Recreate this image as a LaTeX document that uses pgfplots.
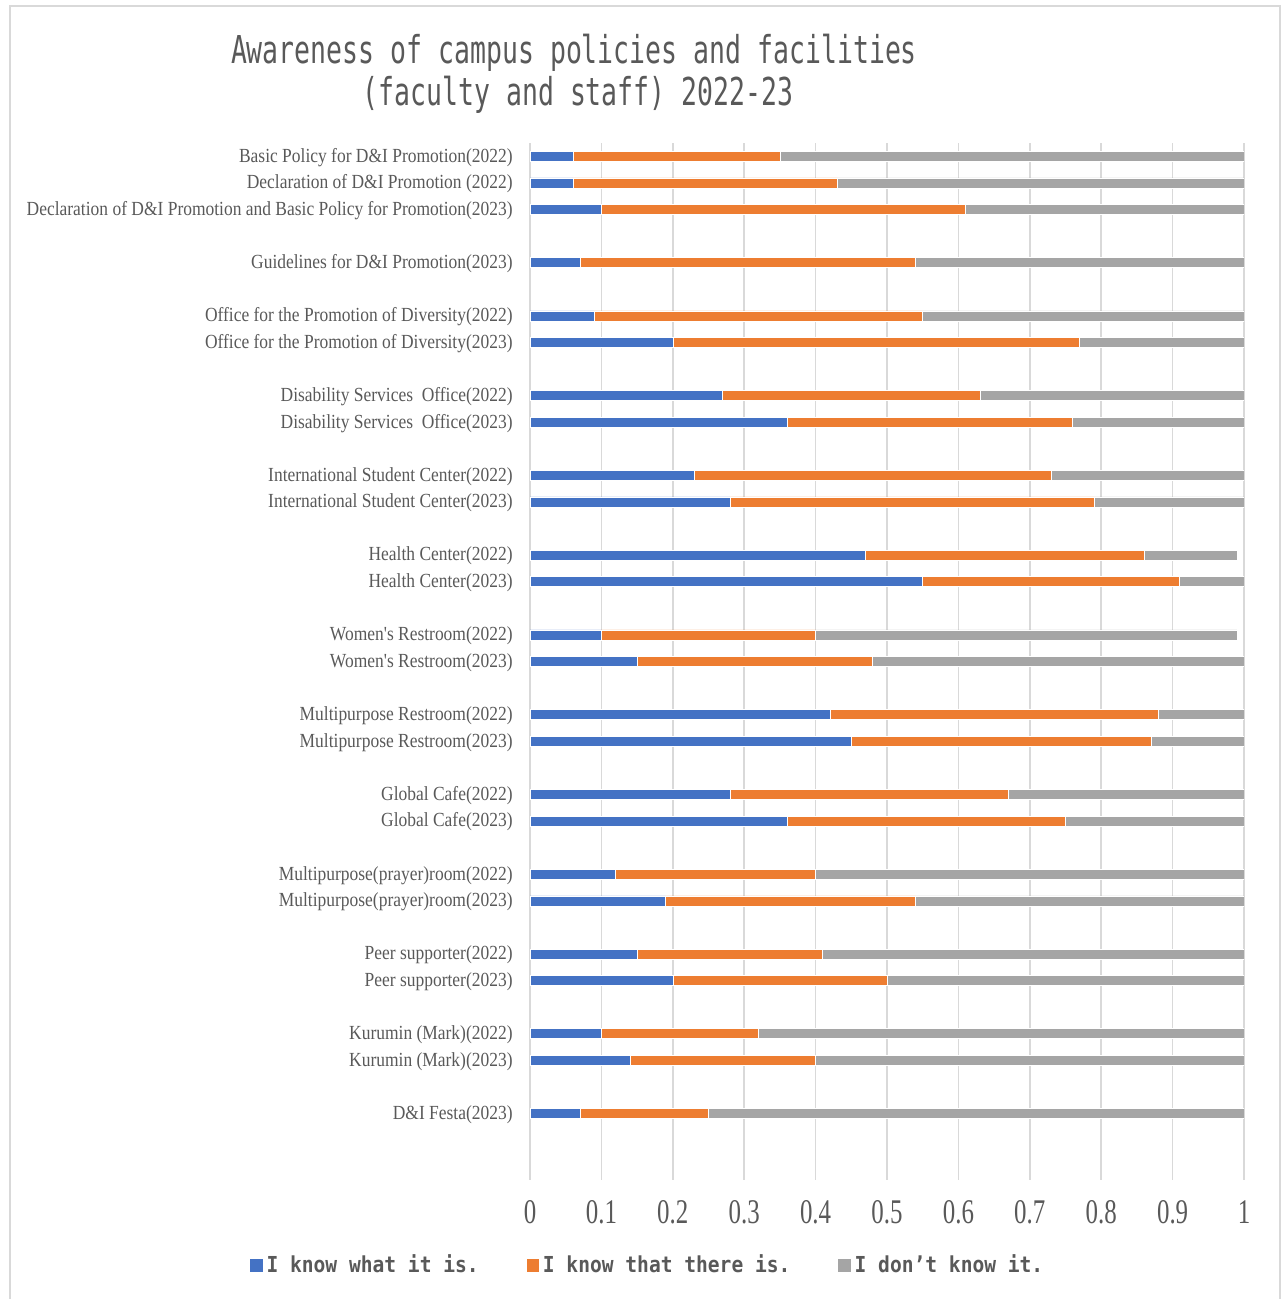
\documentclass[border=0pt]{standalone}
\usepackage{fontspec}
\usepackage{pgfplots}
\usepackage{pgfplotstable}
\pgfplotsset{compat=1.18}
\setmainfont{Liberation Serif}
\newfontfamily\labfont[FakeStretch=0.873]{Liberation Serif}
\newfontfamily\tickfont[FakeStretch=0.72]{Liberation Serif}
\newfontfamily\titlefont[FakeStretch=0.69]{DejaVu Sans Mono}
\newfontfamily\legfont[FakeStretch=0.89]{DejaVu Sans Mono Bold}

\definecolor{cblue}{HTML}{4472C4}
\definecolor{corange}{HTML}{ED7D31}
\definecolor{cgray}{HTML}{A5A5A5}
\definecolor{gridgray}{HTML}{D9D9D9}
\definecolor{txtgray}{HTML}{595959}

% row index (0 = top), share that knows it, knows it exists, does not know
\pgfplotstableread{
idx know there dont
0  0.06 0.29 0.65
1  0.06 0.37 0.57
2  0.10 0.51 0.39
4  0.07 0.47 0.46
6  0.09 0.46 0.45
7  0.20 0.57 0.23
9  0.27 0.36 0.37
10 0.36 0.40 0.24
12 0.23 0.50 0.27
13 0.28 0.51 0.21
15 0.47 0.39 0.13
16 0.55 0.36 0.09
18 0.10 0.30 0.59
19 0.15 0.33 0.52
21 0.42 0.46 0.12
22 0.45 0.42 0.13
24 0.28 0.39 0.33
25 0.36 0.39 0.25
27 0.12 0.28 0.60
28 0.19 0.35 0.46
30 0.15 0.26 0.59
31 0.20 0.30 0.50
33 0.10 0.22 0.68
34 0.14 0.26 0.60
36 0.07 0.18 0.75
}\awareness

\begin{document}
\begin{tikzpicture}[x=1pt,y=1pt]
\useasboundingbox (0,0) rectangle (641,-649.5);
\draw[gridgray, line width=1pt] (5,-700) -- (5,-3) -- (640,-3) -- (640,-700);

\node[anchor=base, text=txtgray, font=\titlefont\fontsize{19.2}{22}\selectfont]
  at (287,-32) {Awareness of campus policies and facilities};
\node[anchor=base, text=txtgray, font=\titlefont\fontsize{19.2}{22}\selectfont]
  at (289,-53) {(faculty and staff) 2022-23};

\begin{axis}[
    at={(265pt,-590pt)}, anchor=south west,
    scale only axis,
    width=357pt, height=518.5pt,
    xbar stacked,
    bar width=5pt,
    y dir=reverse,
    xmin=0, xmax=1,
    ymin=-0.5, ymax=38.5,
    axis line style={draw=none},
    major tick length=0pt,
    xmajorgrids,
    grid style={gridgray, line width=0.75pt},
    xtick={0,0.1,0.2,0.3,0.4,0.5,0.6,0.7,0.8,0.9,1},
    xticklabels={0,0.1,0.2,0.3,0.4,0.5,0.6,0.7,0.8,0.9,1},
    xticklabel style={font=\tickfont\fontsize{17.3}{20}\selectfont, text=txtgray,
        anchor=north, inner sep=0pt, yshift=-10pt},
    ytick={0,1,2,4,6,7,9,10,12,13,15,16,18,19,21,22,24,25,27,28,30,31,33,34,36},
    yticklabels={
      Basic Policy for D\&I Promotion(2022),
      Declaration of D\&I Promotion (2022),
      Declaration of D\&I Promotion and Basic Policy for Promotion(2023),
      Guidelines for D\&I Promotion(2023),
      Office for the Promotion of Diversity(2022),
      Office for the Promotion of Diversity(2023),
      Disability Services~ Office(2022),
      Disability Services~ Office(2023),
      International Student Center(2022),
      International Student Center(2023),
      Health Center(2022),
      Health Center(2023),
      Women's Restroom(2022),
      Women's Restroom(2023),
      Multipurpose Restroom(2022),
      Multipurpose Restroom(2023),
      Global Cafe(2022),
      Global Cafe(2023),
      Multipurpose(prayer)room(2022),
      Multipurpose(prayer)room(2023),
      Peer supporter(2022),
      Peer supporter(2023),
      Kurumin (Mark)(2022),
      Kurumin (Mark)(2023),
      D\&I Festa(2023)},
    yticklabel style={font=\labfont\fontsize{10}{12}\selectfont, text=txtgray,
        anchor=east, inner sep=0pt, xshift=-8.5pt, yshift=-0.5pt},
    legend columns=3,
    legend style={draw=none, at={(axis description cs:0.165,-0.082)}, anchor=center,
        font=\legfont\fontsize{11}{13}\selectfont, text=txtgray,
        /tikz/every even column/.append style={column sep=22pt},
        nodes={inner sep=1.5pt}},
    legend image code/.code={\fill[#1] (0pt,-3.4pt) rectangle (6.8pt,3.4pt);},
    every axis plot/.append style={draw=white, line width=0.3pt},
]
\addplot[fill=cblue, draw=white] table[x=know, y=idx]{\awareness};
\addlegendentry{I know what it is.}
\addplot[fill=corange, draw=white] table[x=there, y=idx]{\awareness};
\addlegendentry{I know that there is.}
\addplot[fill=cgray, draw=white] table[x=dont, y=idx]{\awareness};
\addlegendentry{I don’t know it.}
\end{axis}
\end{tikzpicture}
\end{document}
